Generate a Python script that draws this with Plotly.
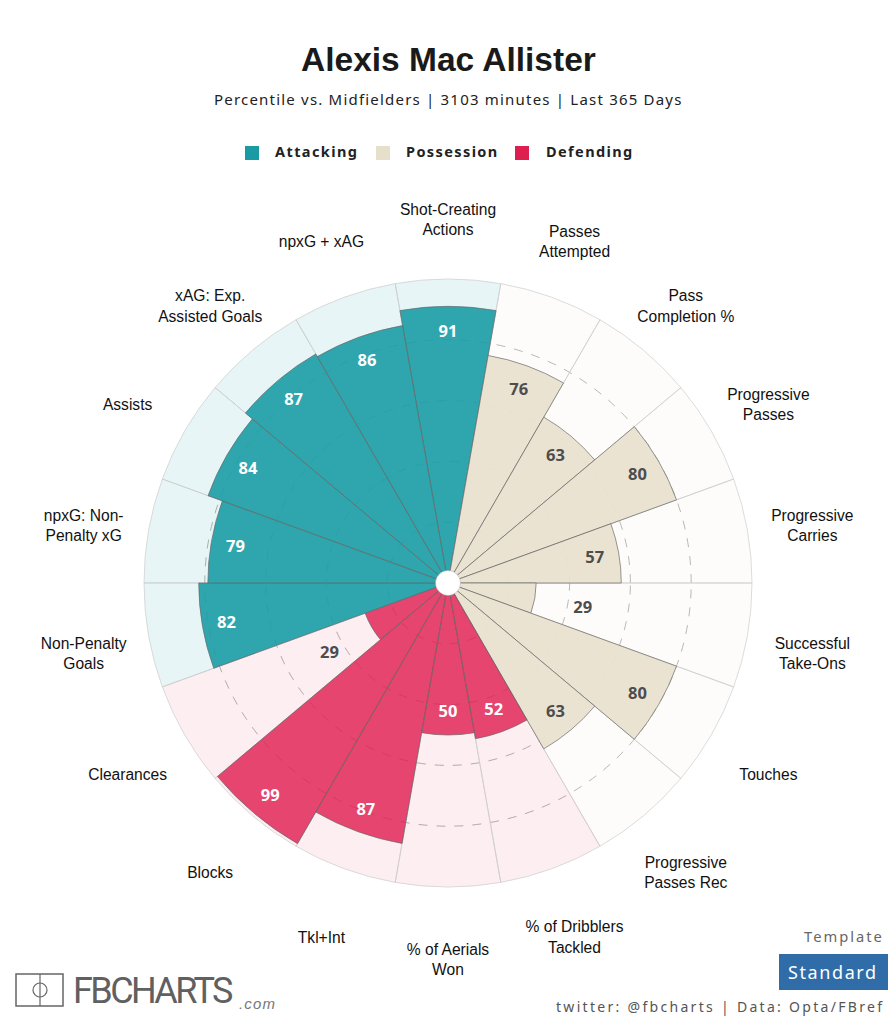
import plotly.graph_objects as go

categories = ["Shot-Creating<br>Actions", "Passes<br>Attempted", "Pass<br>Completion %", "Progressive<br>Passes",
              "Progressive<br>Carries", "Successful<br>Take-Ons", "Touches", "Progressive<br>Passes Rec",
              "% of Dribblers<br>Tackled", "% of Aerials<br>Won", "Tkl+Int", "Blocks", "Clearances",
              "Non-Penalty<br>Goals", "npxG: Non-<br>Penalty xG", "Assists", "xAG: Exp.<br>Assisted Goals", "npxG + xAG"]
values = [91, 76, 63, 80, 57, 29, 80, 63, 52, 50, 87, 99, 29, 82, 79, 84, 87, 86]
groups = ["A", "P", "P", "P", "P", "P", "P", "P", "D", "D", "D", "D", "D", "A", "A", "A", "A", "A"]
rings = [20, 40, 60, 80]

# the page body has an 8px margin, so the figure is 16px smaller than the window
PAGE = 8
W, H = 880, 1008
CX, CY = 448, 583
R_FULL = 304  # pixels for percentile 100
R_MAX = 125

bar_col = {"A": "rgba(30,158,167,0.92)", "P": "rgba(233,225,208,0.95)", "D": "rgba(223,32,80,0.82)"}
bg_col = {"A": "rgba(26,154,163,0.10)", "P": "rgba(231,224,206,0.10)", "D": "rgba(223,32,80,0.08)"}
txt_col = {"A": "#ffffff", "P": "#4d4d4d", "D": "#ffffff"}
swatch = {"Attacking": "#1a9aa3", "Possession": "#e6dfca", "Defending": "#dc1f4f"}

theta = [20 * i for i in range(len(values))]
px = lambda x: (x - PAGE) / W
py = lambda y: 1 - (y - PAGE) / H
r_pix = R_FULL * R_MAX / 100


def polar_domain(cy):
    return dict(x=[px(CX - r_pix), px(CX + r_pix)], y=[py(cy + r_pix), py(cy - r_pix)])


hidden_angular = dict(direction="clockwise", rotation=90, showgrid=False, showticklabels=False,
                      ticks="", showline=False)
hidden_radial = dict(range=[0, R_MAX], showgrid=False, showticklabels=False, ticks="", showline=False)

fig = go.Figure()
# background wedges
fig.add_trace(go.Barpolar(r=[100] * len(values), theta=theta, width=20,
                          marker=dict(color=[bg_col[g] for g in groups],
                                      line=dict(color="#cdcdcd", width=0.7)),
                          hoverinfo="skip", showlegend=False))
# value wedges
fig.add_trace(go.Barpolar(r=values, theta=theta, width=20,
                          marker=dict(color=[bar_col[g] for g in groups],
                                      line=dict(color="#6a6a6a", width=0.7)),
                          showlegend=False))
# centre hole
fig.add_trace(go.Scatterpolar(r=[0], theta=[0], mode="markers",
                              marker=dict(color="white", size=25, line=dict(color="#999999", width=0.4)),
                              showlegend=False))
# value labels, low values sit outside the bar (polar3 is 2px lower than the wedges)
label_r = [v + 16 if v < 30 else v - 8 for v in values]
label_col = ["#4d4d4d" if v < 30 else txt_col[g] for v, g in zip(values, groups)]
fig.add_trace(go.Scatterpolar(r=label_r, theta=theta, mode="text",
                              text=[str(v) for v in values],
                              textfont=dict(family="Noto Sans", size=16.5, color=label_col, weight="bold"),
                              showlegend=False, subplot="polar3"))
# outer labels live in a second polar subplot, 8px lower than the wedges
fig.add_trace(go.Scatterpolar(r=[121.7] * len(values), theta=theta, mode="text", text=categories,
                              textfont=dict(family="Liberation Sans", size=15.6, color="#111111"),
                              showlegend=False, subplot="polar2"))

fig.update_layout(
    width=W, height=H, margin=dict(l=0, r=0, t=0, b=0),
    paper_bgcolor="white", plot_bgcolor="white", showlegend=False,
    polar=dict(
        bgcolor="white", barmode="overlay", domain=polar_domain(CY),
        angularaxis=hidden_angular,
        radialaxis=dict(range=[0, R_MAX], tickvals=rings, showticklabels=False, ticks="", showline=False,
                        gridcolor="#b4b4b4", griddash="9px,9px", gridwidth=0.9),
    ),
    polar2=dict(bgcolor="rgba(0,0,0,0)", domain=polar_domain(CY + 8),
                angularaxis=hidden_angular, radialaxis=hidden_radial),
    polar3=dict(bgcolor="rgba(0,0,0,0)", domain=polar_domain(CY + 2),
                angularaxis=hidden_angular, radialaxis=hidden_radial),
)


def note(x, y, text, size, color="#222222", family="Noto Sans", weight=None, anchor="center", style=None):
    fig.add_annotation(x=px(x), y=py(y), xref="paper", yref="paper", text=text, showarrow=False,
                       xanchor=anchor, yanchor="middle",
                       font=dict(family=family, size=size, color=color, weight=weight, style=style))


def spaced(text, px_space):
    return f'<span style="letter-spacing:{px_space}px">{text}</span>'


note(448, 59, "Alexis Mac Allister", 33.5, "#1a1a1a", "Liberation Sans", "bold")
note(448, 99, spaced("Percentile vs. Midfielders | 3103 minutes | Last 365 Days", 1.2), 15)

# legend
for (name, col), sx, tx in zip(swatch.items(), [245, 376, 515], [273, 404, 544]):
    fig.add_shape(type="rect", xref="paper", yref="paper", x0=px(sx), x1=px(sx + 14), y0=py(160), y1=py(146),
                  fillcolor=col, line=dict(width=0))
    note(tx, 151, spaced(name, 1.4), 14.5, "#222222", weight="bold", anchor="left")

# logo
fig.add_shape(type="rect", xref="paper", yref="paper", x0=px(16), x1=px(63), y0=py(1006), y1=py(974),
              line=dict(color="#666666", width=1.5))
fig.add_shape(type="line", xref="paper", yref="paper", x0=px(40), x1=px(40), y0=py(1006), y1=py(974),
              line=dict(color="#666666", width=1.2))
fig.add_shape(type="circle", xref="paper", yref="paper", x0=px(33), x1=px(47), y0=py(997), y1=py(983),
              line=dict(color="#666666", width=1.2))
note(71, 991, spaced("FBCHARTS", -2.6), 36, "#606060", "Roboto", anchor="left")
note(237, 1003, spaced(".com", 1.2), 15, "#777777", "Liberation Sans", anchor="left", style="italic")

# template box and credit
note(844, 936, spaced("Template", 2), 14.7, "#666666")
fig.add_shape(type="rect", xref="paper", yref="paper", x0=px(779), x1=px(888), y0=py(990), y1=py(954),
              fillcolor="#2f6ca8", line=dict(width=0))
note(833, 972, spaced("Standard", 1.6), 18, "#ffffff")
note(720, 1006, spaced("twitter: @fbcharts | Data: Opta/FBref", 2.3), 14, "#555555")

fig.write_html("out.html")
